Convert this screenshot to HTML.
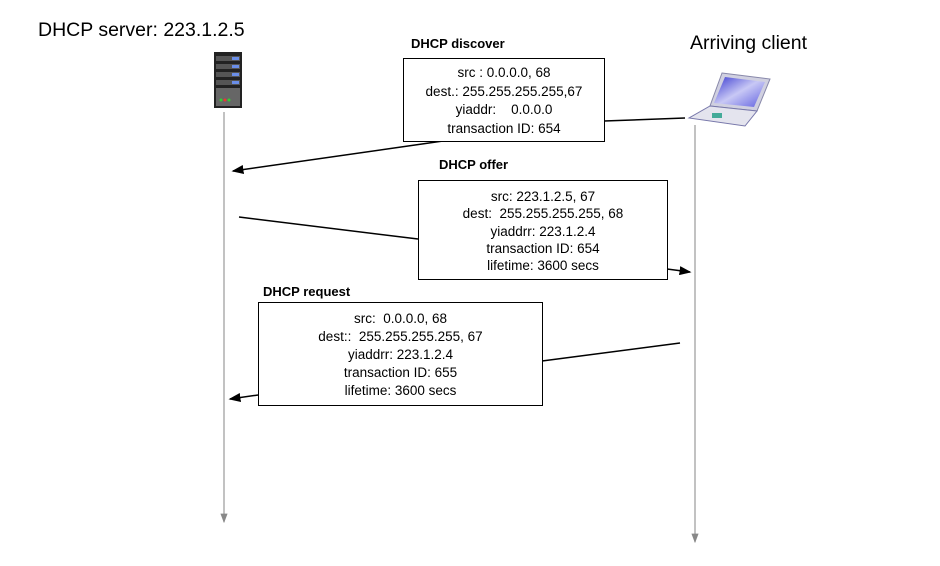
<!DOCTYPE html><html><head><style>
body{margin:0;width:940px;height:566px;background:#fff;overflow:hidden;font-family:"Liberation Sans",sans-serif}
.t{position:absolute;white-space:nowrap}
.b{position:absolute;border:1.3px solid #000;background:#fff;text-align:center;font-size:13.5px;box-sizing:border-box}
.l{position:absolute;font-weight:bold;font-size:13px}
</style></head><body>
<svg width="940" height="566" style="position:absolute;left:0;top:0">
<defs><marker id="a" markerWidth="8" markerHeight="6" refX="7" refY="3" orient="auto"><path d="M0,0L8,3L0,6z" fill="#000"/></marker>
<marker id="g" markerWidth="8" markerHeight="6" refX="7" refY="3" orient="auto"><path d="M0,0L8,3L0,6z" fill="#888"/></marker>
<linearGradient id="sc" x1="0" y1="0" x2="1" y2="1"><stop offset="0" stop-color="#3a3ad0"/><stop offset="0.5" stop-color="#c8c8f5"/><stop offset="1" stop-color="#6060e0"/></linearGradient></defs>
<line x1="224" y1="112" x2="224" y2="522" stroke="#999" stroke-width="1.2" marker-end="url(#g)"/>
<line x1="695" y1="125" x2="695" y2="542" stroke="#999" stroke-width="1.2" marker-end="url(#g)"/>
<rect x="214" y="52" width="28" height="56" fill="#222"/>
<rect x="216" y="56" width="24" height="5" fill="#555"/><rect x="232" y="57" width="7" height="3" fill="#6a8ee8"/>
<rect x="216" y="64" width="24" height="5" fill="#555"/><rect x="232" y="65" width="7" height="3" fill="#6a8ee8"/>
<rect x="216" y="72" width="24" height="5" fill="#555"/><rect x="232" y="73" width="7" height="3" fill="#6a8ee8"/>
<rect x="216" y="80" width="24" height="5" fill="#555"/><rect x="232" y="81" width="7" height="3" fill="#6a8ee8"/>
<rect x="216" y="88" width="24" height="18" fill="#666"/>
<circle cx="221" cy="100" r="1.5" fill="#3c3"/><circle cx="225" cy="100" r="1.5" fill="#e33"/><circle cx="229" cy="100" r="1.5" fill="#3c3"/>
<polygon points="722,73 770,79 757,111 710,106" fill="#d0d0e0" stroke="#8888aa"/>
<polygon points="725,77 765,82 754,107 714,103" fill="url(#sc)"/>
<polygon points="710,106 757,111 745,126 689,118" fill="#e4e4ee" stroke="#7777aa"/>
<rect x="712" y="113" width="10" height="5" fill="#4a9"/>
<line x1="685" y1="118" x2="604" y2="121" stroke="#000" stroke-width="1.5"/>
<line x1="443" y1="141" x2="233" y2="171" stroke="#000" stroke-width="1.5" marker-end="url(#a)"/>
<line x1="239" y1="217" x2="418" y2="239" stroke="#000" stroke-width="1.5"/>
<line x1="667" y1="269" x2="690" y2="272" stroke="#000" stroke-width="1.5" marker-end="url(#a)"/>
<line x1="680" y1="343" x2="542" y2="361" stroke="#000" stroke-width="1.5"/>
<line x1="258" y1="395" x2="230" y2="399" stroke="#000" stroke-width="1.5" marker-end="url(#a)"/>
</svg>
<div class="t" style="left:38px;top:19px;font-size:19.5px">DHCP server: 223.1.2.5</div>
<div class="t" style="left:690px;top:32px;font-size:19.5px">Arriving client</div>
<div class="l" style="left:411px;top:36px">DHCP discover</div>
<div class="b" style="left:403px;top:58px;width:202px;height:84px;line-height:18.5px;padding-top:5px">src : 0.0.0.0, 68<br>dest.: 255.255.255.255,67<br>yiaddr:&nbsp;&nbsp;&nbsp; 0.0.0.0<br>transaction ID: 654</div>
<div class="l" style="left:439px;top:157px">DHCP offer</div>
<div class="b" style="left:418px;top:180px;width:250px;height:100px;line-height:17.3px;padding-top:7px">src: 223.1.2.5, 67<br>dest:&nbsp; 255.255.255.255, 68<br>yiaddrr: 223.1.2.4<br>transaction ID: 654<br>lifetime: 3600 secs</div>
<div class="l" style="left:263px;top:284px">DHCP request</div>
<div class="b" style="left:258px;top:302px;width:285px;height:104px;line-height:18px;padding-top:7px">src:&nbsp; 0.0.0.0, 68<br>dest::&nbsp; 255.255.255.255, 67<br>yiaddrr: 223.1.2.4<br>transaction ID: 655<br>lifetime: 3600 secs</div>
</body></html>
